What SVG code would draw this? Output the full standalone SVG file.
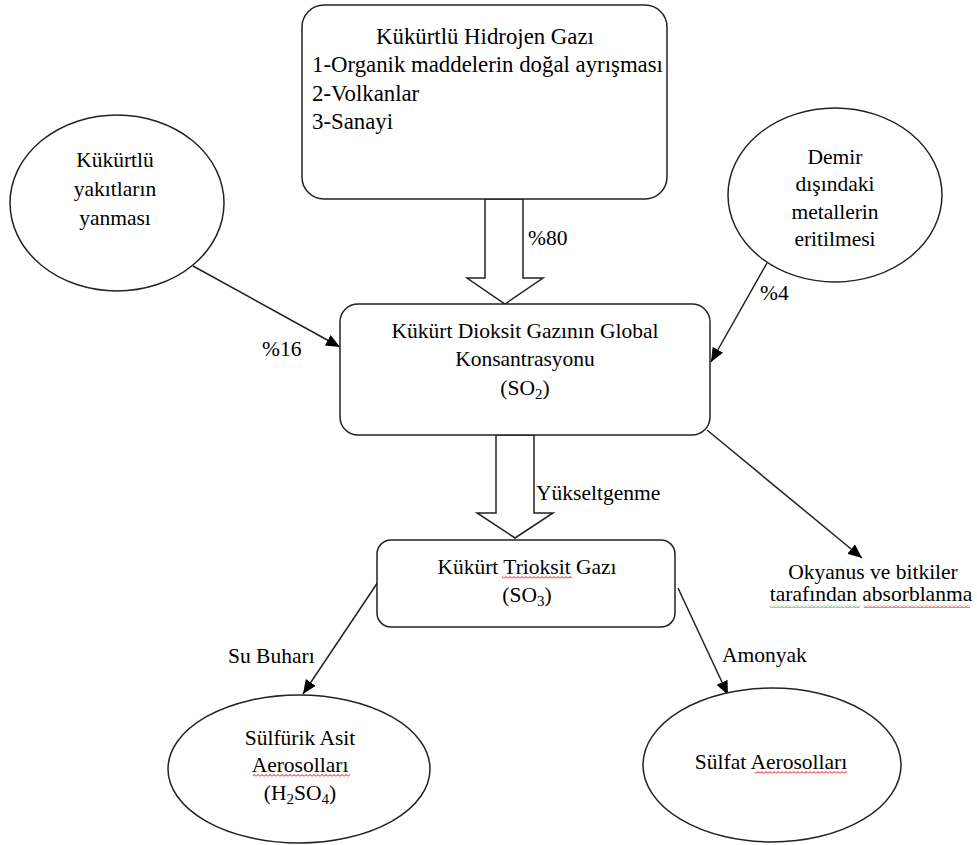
<svg xmlns="http://www.w3.org/2000/svg" width="977" height="845" viewBox="0 0 977 845">
<defs>
<style>
.box{fill:#fff;stroke:#222;stroke-width:1.5}
.t{font-family:"Liberation Serif","Times New Roman",serif;font-size:21.5px;fill:#000}
.big{font-size:22.8px}
.c{text-anchor:middle}
.ln{stroke:#222;stroke-width:1.5;fill:none;marker-end:url(#ah)}
.hollow{fill:#fff;stroke:#222;stroke-width:1.5}
</style>
<marker id="ah" markerUnits="userSpaceOnUse" markerWidth="14" markerHeight="12" refX="14" refY="6" orient="auto">
<path d="M0,0 L14,6 L0,12 z" fill="#000"/>
</marker>
<pattern id="red" patternUnits="userSpaceOnUse" width="4" height="3">
<path d="M0,2.5 L2,0.5 L4,2.5" stroke="#e00" stroke-width="1" fill="none"/>
</pattern>
<pattern id="green" patternUnits="userSpaceOnUse" width="4" height="3">
<path d="M0,2.5 L2,0.5 L4,2.5" stroke="#3a3" stroke-width="1" fill="none"/>
</pattern>
</defs>
<rect width="977" height="845" fill="#fff"/>

<g id="connectors">
<polygon class="hollow" points="485,199 523,199 523,278 543,278 505,304 467,278 485,278"/>
<polygon class="hollow" points="496,435 534,435 534,513 553,513 515,538 477,513 496,513"/>
<line class="ln" x1="193" y1="266" x2="340" y2="347"/>
<line class="ln" x1="767" y1="263" x2="711" y2="362"/>
<line class="ln" x1="707" y1="430" x2="862" y2="558"/>
<line class="ln" x1="378" y1="582" x2="303" y2="694"/>
<line class="ln" x1="678" y1="588" x2="728" y2="695"/>
<text class="t" x="528" y="245">%80</text>
<text class="t" x="262" y="356">%16</text>
<text class="t" x="760" y="300">%4</text>
<text class="t" x="536" y="500">Yükseltgenme</text>
<text class="t" x="228" y="663">Su Buharı</text>
<text class="t" x="722" y="662">Amonyak</text>
</g>

<g id="hidrojen">
<rect class="box" x="302" y="5" width="365" height="194" rx="22"/>
<text class="t big c" x="485" y="44">Kükürtlü Hidrojen Gazı</text>
<text class="t big" x="312" y="72">1-Organik maddelerin doğal ayrışması</text>
<text class="t big" x="312" y="101">2-Volkanlar</text>
<text class="t big" x="312" y="129">3-Sanayi</text>
</g>

<g id="yakit">
<ellipse class="box" cx="117" cy="203" rx="107" ry="88"/>
<text class="t c" x="115" y="167">Kükürtlü</text>
<text class="t c" x="115" y="196">yakıtların</text>
<text class="t c" x="115" y="225">yanması</text>
</g>

<g id="demir">
<ellipse class="box" cx="835" cy="195" rx="107" ry="87"/>
<text class="t c" x="835" y="164">Demir</text>
<text class="t c" x="835" y="191">dışındaki</text>
<text class="t c" x="835" y="219">metallerin</text>
<text class="t c" x="835" y="246">eritilmesi</text>
</g>

<g id="so2">
<rect class="box" x="340" y="304" width="370" height="131" rx="18"/>
<text class="t c" x="525" y="338">Kükürt Dioksit Gazının Global</text>
<text class="t c" x="525" y="366">Konsantrasyonu</text>
<text class="t c" x="525" y="395">(SO<tspan font-size="15" dy="4">2</tspan><tspan dy="-4">)</tspan></text>
</g>

<g id="so3">
<rect class="box" x="377" y="540" width="298" height="87" rx="14"/>
<text class="t c" x="527" y="574">Kükürt Trioksit Gazı</text>
<rect x="502" y="576" width="70" height="3" fill="url(#red)"/>
<text class="t c" x="527" y="602">(SO<tspan font-size="15" dy="4">3</tspan><tspan dy="-4">)</tspan></text>
</g>

<g id="okyanus">
<text class="t c" x="873" y="579">Okyanus ve bitkiler</text>
<text class="t c" x="871" y="601">tarafından absorblanma</text>
<rect x="770" y="605" width="90" height="3" fill="url(#green)"/>
<rect x="864" y="605" width="106" height="3" fill="url(#red)"/>
</g>

<g id="sulfurik">
<ellipse class="box" cx="299" cy="769" rx="131" ry="74"/>
<text class="t c" x="300" y="745">Sülfürik Asit</text>
<text class="t c" x="300" y="772">Aerosolları</text>
<rect x="253" y="774" width="97" height="3" fill="url(#red)"/>
<text class="t c" x="300" y="800">(H<tspan font-size="15" dy="4">2</tspan><tspan dy="-4">SO</tspan><tspan font-size="15" dy="4">4</tspan><tspan dy="-4">)</tspan></text>
</g>

<g id="sulfat">
<ellipse class="box" cx="772" cy="765" rx="129" ry="77"/>
<text class="t c" x="771" y="769">Sülfat Aerosolları</text>
<rect x="755" y="771" width="92" height="3" fill="url(#red)"/>
</g>
</svg>
